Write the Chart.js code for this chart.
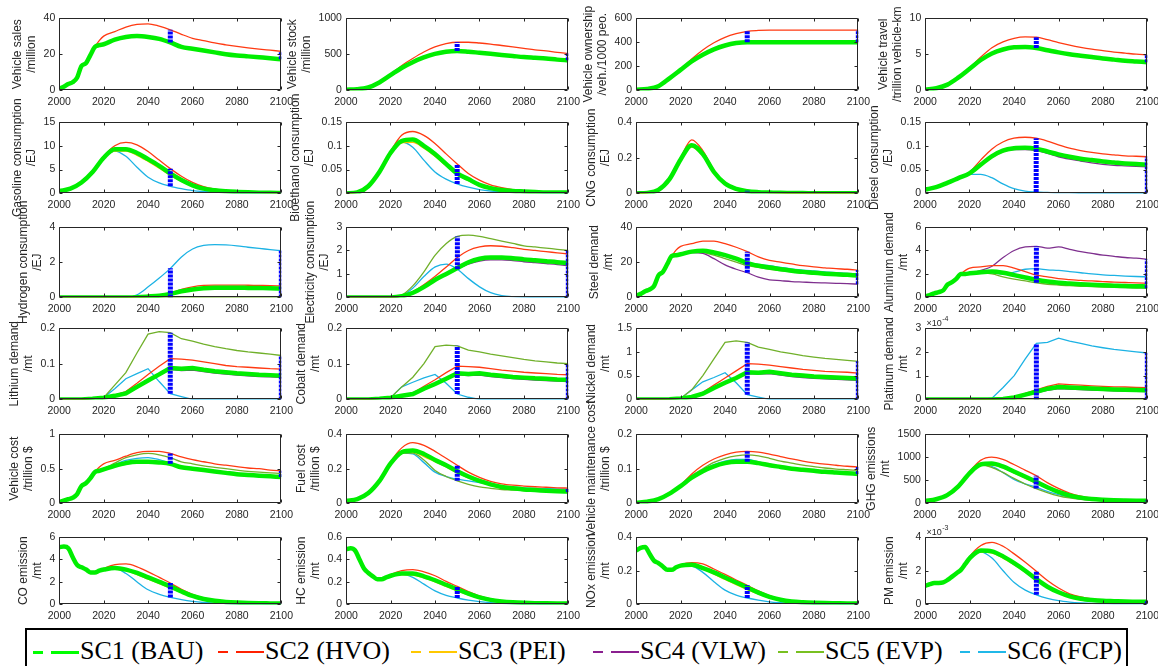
<!DOCTYPE html>
<html><head><meta charset="utf-8">
<script src="https://cdn.jsdelivr.net/npm/chart.js@4.4.1/dist/chart.umd.min.js"></script>
<style>
html,body{margin:0;padding:0;background:#fff;overflow:hidden;}
body{width:1158px;height:666px;position:relative;}
.panel{position:absolute;}
.panel canvas{display:block;}
#legend{position:absolute;left:25px;top:628px;width:1103px;height:60px;border:2px solid #000;box-sizing:border-box;}
.ltext{position:absolute;font-family:"Liberation Serif","Times New Roman",serif;font-size:26px;color:#000;line-height:30px;white-space:nowrap;}
.lseg{position:absolute;height:0;}
</style></head>
<body>
<div id="legend"></div>
<script>
// ---------------- data ----------------
const YEARS = [2000,2005,2010,2015,2020,2025,2030,2035,2040,2045,2050,2055,2060,2065,2070,2075,2080,2085,2090,2095,2100];
const YEARS_H = [2000,2002,2004,2006,2008,2010,2012,2014,2016,2018,2020,2025,2030,2035,2040,2045,2050,2055,2060,2065,2070,2075,2080,2085,2090,2095,2100];
const X_TICKS = [2000,2020,2040,2060,2080,2100];
const MARK_YEARS = [2050,2100];

const SERIES_NAMES = ['SC1 (BAU)','SC2 (HVO)','SC3 (PEI)','SC4 (VLW)','SC5 (EVP)','SC6 (FCP)'];

// Vehicle sales /million
const salesSC1 = [1,2,3.5,4.5,7,13.5,15,19.5,24,25,25.5,28,29.5,30,29.5,28.5,26.5,24,23,22,21,20,19.3,18.8,18.3,17.8,17.2];
const salesSC2 = [1,2,3.5,4.5,7,13.5,15,19.5,24,27.5,30,32.5,35,36.5,36.8,35.5,33.5,31,28.8,27.5,26.2,25.2,24.3,23.5,22.8,22.2,21.6];
// Vehicle stock /million
const stockSC1 = [10,15,40,110,210,310,390,455,505,535,545,535,520,505,490,475,460,450,440,425,415];
const stockSC2 = [10,15,40,110,220,340,440,530,600,645,665,665,655,640,620,600,580,560,545,525,510];
// Vehicle ownership
const ownSC1 = [5,12,35,100,170,240,295,340,372,392,400,400,400,400,400,400,400,400,400,400,400];
const ownSC2 = [5,12,35,100,175,260,335,395,440,470,490,497,500,500,500,500,500,500,500,500,500];
// Vehicle travel
const travSC1 = [0.1,0.3,0.8,1.8,3.0,4.2,5.1,5.65,5.95,6.0,5.85,5.55,5.25,5.0,4.8,4.6,4.4,4.25,4.1,4.0,3.9];
const travSC2 = [0.1,0.3,0.8,1.8,3.1,4.6,5.9,6.7,7.2,7.4,7.35,7.0,6.6,6.25,5.95,5.7,5.5,5.3,5.15,5.0,4.9];
// Gasoline
const gasSC1 = [0.5,1.0,2.3,4.5,7.5,9.3,9.3,8.5,7.2,5.8,4.2,2.8,1.7,1.0,0.65,0.45,0.32,0.22,0.16,0.12,0.1];
const gasSC2 = [0.5,1.0,2.3,4.5,7.8,10.0,10.7,10.2,8.8,7.0,5.2,3.6,2.3,1.4,0.9,0.6,0.42,0.3,0.22,0.16,0.12];
const gasSC3 = [0.5,1.0,2.3,4.5,7.5,8.9,8.9,8.0,6.7,5.3,3.8,2.5,1.5,0.9,0.6,0.42,0.3,0.21,0.15,0.11,0.09];
const gasSC6 = [0.5,1.0,2.3,4.5,7.5,8.9,7.8,5.5,3.4,2.2,1.5,1.0,0.6,0.4,0.3,0.2,0.15,0.1,0.08,0.06,0.05];
// Bioethanol
const bioSC1 = [0,0.002,0.015,0.045,0.085,0.11,0.113,0.1,0.083,0.062,0.042,0.03,0.018,0.011,0.007,0.005,0.004,0.003,0.002,0.002,0.002];
const bioSC2 = [0,0.002,0.015,0.045,0.088,0.122,0.13,0.122,0.105,0.083,0.062,0.042,0.028,0.018,0.012,0.008,0.006,0.004,0.003,0.003,0.002];
const bioSC3 = [0,0.002,0.015,0.045,0.085,0.106,0.107,0.095,0.078,0.058,0.04,0.027,0.017,0.01,0.007,0.005,0.004,0.003,0.002,0.002,0.002];
const bioSC6 = [0,0.002,0.015,0.045,0.085,0.108,0.097,0.07,0.045,0.03,0.02,0.013,0.008,0.005,0.004,0.003,0.002,0.002,0.001,0.001,0.001];
// CNG
const cngSC1 = [0,0.003,0.02,0.08,0.19,0.27,0.22,0.12,0.055,0.025,0.012,0.007,0.005,0.003,0.002,0.002,0.001,0.001,0.001,0.001,0.001];
const cngSC2 = [0,0.003,0.02,0.08,0.2,0.3,0.24,0.13,0.058,0.027,0.015,0.008,0.005,0.003,0.002,0.002,0.001,0.001,0.001,0.001,0.001];
const cngSC3 = [0,0.003,0.02,0.08,0.19,0.26,0.21,0.115,0.052,0.024,0.011,0.007,0.005,0.003,0.002,0.002,0.001,0.001,0.001,0.001,0.001];
// Diesel
const dslSC1 = [0.008,0.013,0.022,0.032,0.042,0.06,0.078,0.09,0.095,0.096,0.094,0.088,0.082,0.077,0.073,0.07,0.067,0.065,0.063,0.062,0.06];
const dslSC2 = [0.008,0.013,0.022,0.032,0.045,0.07,0.093,0.108,0.116,0.118,0.116,0.11,0.102,0.095,0.09,0.086,0.083,0.081,0.079,0.078,0.077];
const dslSC3 = [0.008,0.013,0.022,0.032,0.042,0.058,0.075,0.087,0.093,0.094,0.092,0.087,0.081,0.076,0.072,0.069,0.066,0.064,0.062,0.061,0.059];
const dslSC4 = [0.008,0.013,0.022,0.032,0.042,0.06,0.077,0.088,0.092,0.092,0.09,0.084,0.077,0.072,0.068,0.064,0.061,0.059,0.058,0.057,0.056];
const dslSC6 = [0.008,0.013,0.022,0.032,0.04,0.04,0.033,0.02,0.01,0.005,0.003,0.002,0.001,0.001,0,0,0,0,0,0,0];
// Hydrogen
const h2SC1 = [0,0,0,0,0,0,0,0.01,0.05,0.1,0.2,0.35,0.45,0.52,0.55,0.55,0.55,0.54,0.53,0.52,0.5];
const h2SC2 = [0,0,0,0,0,0,0,0.01,0.05,0.12,0.25,0.45,0.6,0.68,0.7,0.7,0.7,0.69,0.68,0.67,0.65];
const h2SC5 = [0,0,0,0,0,0,0,0,0,0,0,0,0,0,0,0,0,0,0,0,0];
const h2SC6 = [0,0,0,0,0,0,0,0.15,0.6,1.1,1.65,2.3,2.75,2.95,3.0,2.98,2.93,2.85,2.78,2.72,2.65];
// Electricity
const elecSC1 = [0,0,0,0,0,0.05,0.2,0.45,0.75,1.0,1.25,1.5,1.65,1.7,1.7,1.67,1.62,1.58,1.54,1.5,1.47];
const elecSC2 = [0,0,0,0,0,0.05,0.25,0.55,0.9,1.3,1.7,2.0,2.15,2.2,2.18,2.12,2.05,2.0,1.95,1.9,1.85];
const elecSC4 = [0,0,0,0,0,0.05,0.2,0.45,0.75,1.0,1.22,1.42,1.55,1.6,1.6,1.57,1.52,1.48,1.44,1.4,1.35];
const elecSC5 = [0,0,0,0,0,0.1,0.5,1.1,1.8,2.3,2.6,2.65,2.6,2.5,2.4,2.3,2.2,2.15,2.1,2.05,2.0];
const elecSC6 = [0,0,0,0,0,0.08,0.4,0.9,1.3,1.42,1.2,0.8,0.45,0.2,0.08,0.03,0.01,0,0,0,0];
// Steel
const steelSC1 = [1,2,3.5,4.5,6.5,12.5,14.5,19,23.5,24,24.5,26,26.5,25.5,24,22,19.5,18,17,16,15.2,14.5,14,13.5,13.1,12.8,12.5];
const steelSC2 = [1,2,3.5,4.5,6.5,12.5,14.5,19,23.5,27,29,30.5,32,32,30.5,28.5,26,23,21,20,19,18,17.3,16.8,16.3,16,15.5];
const steelSC4 = [1,2,3.5,4.5,6.5,12.5,14.5,19,23.5,24,24.5,25.5,25,22,18.5,16,14,11.5,10,9.5,9,8.7,8.4,8.2,8,7.8,7.5];
const steelSC5 = [1,2,3.5,4.5,6.5,12.5,14.5,19,23.5,24,24.5,25.8,25.5,24,22,20,18,17,16,15.2,14.5,13.8,13.3,12.9,12.5,12.2,12];
const steelSC6 = [1,2,3.5,4.5,6.5,12.5,14.5,19,23.5,24,24.5,25.8,26,25,23.5,22,20,18.7,18,17,16.2,15.5,15,14.5,14,13.7,13.5];
// Aluminum
const alSC1 = [0.1,0.2,0.35,0.45,0.6,1.1,1.3,1.6,2.0,2.0,2.05,2.15,2.2,2.1,1.9,1.7,1.5,1.35,1.25,1.18,1.12,1.07,1.03,1.0,0.97,0.95,0.93];
const alSC2 = [0.1,0.2,0.35,0.45,0.6,1.1,1.3,1.6,2.0,2.3,2.5,2.6,2.7,2.7,2.5,2.2,1.9,1.75,1.6,1.52,1.45,1.4,1.35,1.3,1.27,1.24,1.2];
const alSC4 = [0.1,0.2,0.35,0.45,0.6,1.1,1.3,1.6,2.0,2.0,2.05,2.3,2.65,3.4,4.0,4.3,4.35,4.2,4.3,4.1,3.9,3.75,3.6,3.5,3.4,3.35,3.25];
const alSC5 = [0.1,0.2,0.35,0.45,0.6,1.1,1.3,1.6,2.0,2.0,2.05,2.1,2.0,1.75,1.55,1.4,1.25,1.12,1.05,1.0,0.95,0.92,0.88,0.85,0.83,0.8,0.78];
const alSC6 = [0.1,0.2,0.35,0.45,0.6,1.1,1.3,1.6,2.0,2.0,2.05,2.15,2.1,2.0,2.15,2.4,2.45,2.35,2.3,2.2,2.1,2.0,1.92,1.87,1.82,1.78,1.75];
// Lithium
const liSC1 = [0,0,0,0.002,0.005,0.01,0.017,0.035,0.053,0.07,0.088,0.086,0.088,0.083,0.079,0.076,0.073,0.071,0.069,0.068,0.066];
const liSC2 = [0,0,0,0.002,0.005,0.012,0.022,0.045,0.07,0.093,0.114,0.113,0.11,0.105,0.1,0.095,0.092,0.09,0.088,0.086,0.085];
const liSC4 = [0,0,0,0.002,0.005,0.01,0.017,0.035,0.052,0.068,0.084,0.081,0.082,0.078,0.074,0.071,0.068,0.066,0.064,0.063,0.062];
const liSC5 = [0,0,0,0.002,0.005,0.04,0.075,0.13,0.183,0.19,0.187,0.17,0.163,0.155,0.148,0.142,0.137,0.133,0.13,0.127,0.123];
const liSC6 = [0,0,0,0.002,0.005,0.03,0.058,0.072,0.086,0.05,0.016,0.008,0,0,0,0,0,0,0,0,0];
// Cobalt
const coSC1 = [0,0,0,0.002,0.005,0.01,0.015,0.03,0.043,0.058,0.073,0.071,0.073,0.069,0.066,0.063,0.061,0.059,0.058,0.056,0.055];
const coSC2 = [0,0,0,0.002,0.005,0.01,0.018,0.037,0.055,0.075,0.093,0.092,0.09,0.086,0.082,0.079,0.076,0.074,0.072,0.07,0.069];
const coSC4 = [0,0,0,0.002,0.005,0.01,0.015,0.03,0.042,0.055,0.069,0.067,0.068,0.064,0.061,0.058,0.056,0.054,0.053,0.051,0.05];
const coSC5 = [0,0,0,0.002,0.005,0.035,0.062,0.1,0.148,0.152,0.15,0.138,0.133,0.127,0.122,0.117,0.112,0.108,0.105,0.102,0.1];
const coSC6 = [0,0,0,0.002,0.005,0.035,0.048,0.06,0.07,0.045,0.015,0.006,0,0,0,0,0,0,0,0,0];
// Nickel
const niSC1 = [0,0,0,0.005,0.02,0.05,0.12,0.24,0.35,0.45,0.57,0.56,0.58,0.55,0.52,0.5,0.48,0.47,0.46,0.45,0.44];
const niSC2 = [0,0,0,0.005,0.02,0.06,0.15,0.3,0.45,0.6,0.75,0.74,0.72,0.69,0.66,0.63,0.61,0.59,0.58,0.57,0.55];
const niSC4 = [0,0,0,0.005,0.02,0.05,0.12,0.23,0.34,0.44,0.54,0.53,0.54,0.51,0.48,0.46,0.44,0.43,0.42,0.41,0.4];
const niSC5 = [0,0,0,0.005,0.02,0.2,0.5,0.85,1.2,1.23,1.2,1.1,1.05,1.0,0.96,0.92,0.89,0.86,0.84,0.82,0.8];
const niSC6 = [0,0,0,0.005,0.02,0.2,0.37,0.46,0.56,0.35,0.1,0.05,0,0,0,0,0,0,0,0,0];
// Platinum (values in units of 1e-4 mt)
const ptSC1 = [0,0,0,0,0,0,0,0.02,0.08,0.2,0.32,0.45,0.52,0.5,0.48,0.46,0.44,0.42,0.41,0.4,0.38];
const ptSC2 = [0,0,0,0,0,0,0,0.03,0.1,0.25,0.4,0.55,0.65,0.62,0.6,0.57,0.55,0.53,0.52,0.5,0.49];
const ptSC4 = [0,0,0,0,0,0,0,0.02,0.07,0.18,0.28,0.38,0.45,0.43,0.41,0.39,0.38,0.36,0.35,0.34,0.33];
const ptSC5 = [0,0,0,0,0,0,0,0,0,0,0,0,0,0,0,0,0,0,0,0,0];
const ptSC6 = [0,0,0,0,0,0,0.05,0.5,1.0,1.7,2.35,2.4,2.57,2.45,2.35,2.25,2.17,2.1,2.05,2.0,1.95];
// Vehicle cost
const vcSC1 = [0.02,0.04,0.06,0.08,0.13,0.25,0.29,0.36,0.45,0.47,0.49,0.54,0.58,0.6,0.6,0.59,0.57,0.52,0.5,0.48,0.46,0.44,0.42,0.41,0.4,0.39,0.38];
const vcSC2 = [0.02,0.04,0.06,0.08,0.13,0.25,0.29,0.36,0.45,0.52,0.57,0.62,0.68,0.73,0.75,0.75,0.72,0.67,0.63,0.6,0.57,0.55,0.53,0.51,0.5,0.48,0.47];
const vcSC5 = [0.02,0.04,0.06,0.08,0.13,0.25,0.29,0.36,0.45,0.47,0.5,0.58,0.66,0.7,0.72,0.7,0.66,0.6,0.57,0.54,0.52,0.5,0.48,0.46,0.45,0.44,0.43];
const vcSC6 = [0.02,0.04,0.06,0.08,0.13,0.25,0.29,0.36,0.45,0.47,0.49,0.56,0.62,0.65,0.66,0.63,0.58,0.53,0.51,0.49,0.47,0.45,0.43,0.42,0.41,0.4,0.39];
// Fuel cost
const fcSC1 = [0.015,0.025,0.06,0.13,0.23,0.295,0.305,0.285,0.25,0.22,0.185,0.155,0.13,0.11,0.095,0.087,0.08,0.077,0.073,0.07,0.068];
const fcSC2 = [0.015,0.025,0.06,0.13,0.24,0.32,0.35,0.335,0.3,0.26,0.22,0.18,0.15,0.127,0.113,0.105,0.1,0.096,0.093,0.09,0.088];
const fcSC3 = [0.015,0.025,0.06,0.13,0.23,0.29,0.295,0.27,0.24,0.21,0.175,0.147,0.124,0.105,0.092,0.084,0.078,0.075,0.071,0.069,0.067];
const fcSC5 = [0.015,0.025,0.06,0.13,0.23,0.29,0.29,0.25,0.19,0.155,0.13,0.11,0.095,0.087,0.08,0.077,0.074,0.072,0.07,0.068,0.066];
const fcSC6 = [0.015,0.025,0.06,0.13,0.23,0.29,0.285,0.235,0.18,0.155,0.14,0.13,0.12,0.11,0.1,0.095,0.09,0.087,0.085,0.083,0.082];
// Maintenance cost
const mcSC1 = [0.002,0.005,0.012,0.028,0.05,0.074,0.093,0.107,0.116,0.12,0.12,0.116,0.11,0.105,0.1,0.097,0.094,0.091,0.089,0.087,0.085];
const mcSC2 = [0.002,0.005,0.012,0.028,0.052,0.085,0.11,0.128,0.14,0.148,0.15,0.148,0.142,0.135,0.128,0.122,0.117,0.113,0.11,0.107,0.105];
const mcSC5 = [0.002,0.005,0.012,0.028,0.051,0.08,0.1,0.118,0.13,0.137,0.14,0.137,0.13,0.122,0.116,0.11,0.106,0.102,0.099,0.097,0.095];
const mcSC6 = [0.002,0.005,0.012,0.028,0.05,0.077,0.097,0.112,0.122,0.127,0.127,0.12,0.113,0.107,0.102,0.098,0.095,0.092,0.09,0.088,0.086];
// GHG
const ghgSC1 = [50,90,180,370,650,840,860,800,690,580,470,350,250,175,125,95,78,67,61,57,55];
const ghgSC2 = [50,90,180,370,680,930,1000,950,840,720,600,450,325,225,155,112,90,78,70,65,62];
const ghgSC3 = [50,90,180,370,650,820,830,770,660,545,435,325,235,165,118,90,75,65,59,55,53];
const ghgSC5 = [50,90,180,370,650,830,780,670,540,420,320,235,165,118,88,70,60,55,52,50,48];
const ghgSC6 = [50,90,180,370,650,830,800,670,520,420,350,260,190,130,95,75,65,58,55,52,50];
// CO
const coeSC1 = [5.1,5.15,5.0,4.2,3.5,3.3,3.1,2.85,2.85,3.0,3.1,3.25,3.1,2.8,2.4,2.0,1.6,1.15,0.75,0.48,0.32,0.22,0.16,0.12,0.1,0.09,0.08];
const coeSC2 = [5.1,5.15,5.0,4.2,3.5,3.3,3.1,2.85,2.85,3.0,3.2,3.55,3.6,3.35,2.9,2.4,1.9,1.35,0.9,0.58,0.38,0.26,0.18,0.14,0.11,0.1,0.09];
const coeSC3 = [5.1,5.15,5.0,4.2,3.5,3.3,3.1,2.85,2.85,3.0,3.1,3.15,3.0,2.65,2.25,1.85,1.45,1.05,0.7,0.45,0.3,0.2,0.15,0.11,0.09,0.08,0.07];
const coeSC6 = [5.1,5.15,5.0,4.2,3.5,3.3,3.1,2.85,2.85,3.0,3.1,3.2,2.75,2.0,1.3,0.9,0.62,0.42,0.27,0.17,0.11,0.08,0.06,0.05,0.04,0.035,0.03];
// HC
const hcSC1 = [0.49,0.5,0.48,0.4,0.32,0.28,0.25,0.225,0.225,0.24,0.255,0.275,0.275,0.25,0.215,0.175,0.135,0.095,0.062,0.04,0.027,0.019,0.014,0.011,0.01,0.009,0.008];
const hcSC2 = [0.49,0.5,0.48,0.4,0.32,0.28,0.25,0.225,0.225,0.24,0.265,0.3,0.31,0.29,0.255,0.205,0.16,0.115,0.075,0.048,0.031,0.021,0.015,0.012,0.01,0.009,0.008];
const hcSC3 = [0.49,0.5,0.48,0.4,0.32,0.28,0.25,0.225,0.225,0.24,0.255,0.265,0.26,0.235,0.2,0.16,0.12,0.085,0.056,0.036,0.024,0.017,0.013,0.01,0.009,0.008,0.007];
const hcSC6 = [0.49,0.5,0.48,0.4,0.32,0.28,0.25,0.225,0.225,0.24,0.255,0.27,0.24,0.18,0.12,0.08,0.057,0.038,0.024,0.015,0.01,0.007,0.005,0.004,0.003,0.003,0.003];
// NOx
const noxSC1 = [0.32,0.335,0.34,0.3,0.26,0.245,0.225,0.205,0.205,0.22,0.23,0.235,0.215,0.19,0.16,0.13,0.1,0.07,0.045,0.028,0.018,0.013,0.01,0.008,0.007,0.006,0.006];
const noxSC2 = [0.32,0.335,0.34,0.3,0.26,0.245,0.225,0.205,0.205,0.22,0.235,0.248,0.24,0.21,0.178,0.145,0.113,0.08,0.052,0.033,0.022,0.016,0.012,0.01,0.009,0.008,0.007];
const noxSC3 = [0.32,0.335,0.34,0.3,0.26,0.245,0.225,0.205,0.205,0.22,0.23,0.232,0.21,0.18,0.148,0.117,0.088,0.062,0.04,0.025,0.016,0.012,0.009,0.007,0.006,0.006,0.005];
const noxSC6 = [0.32,0.335,0.34,0.3,0.26,0.245,0.225,0.205,0.205,0.22,0.23,0.228,0.19,0.135,0.085,0.055,0.038,0.025,0.015,0.01,0.007,0.005,0.004,0.003,0.003,0.002,0.002];
// PM (values in units of 1e-3 mt)
const pmSC1 = [1.1,1.2,1.27,1.27,1.3,1.45,1.65,1.85,2.05,2.4,2.75,3.2,3.15,2.85,2.45,2.0,1.5,1.05,0.72,0.48,0.34,0.26,0.21,0.19,0.17,0.16,0.15];
const pmSC2 = [1.1,1.2,1.27,1.27,1.3,1.45,1.65,1.85,2.05,2.4,2.85,3.5,3.68,3.45,3.0,2.5,1.96,1.42,0.97,0.63,0.44,0.33,0.27,0.23,0.21,0.2,0.19];
const pmSC3 = [1.1,1.2,1.27,1.27,1.3,1.45,1.65,1.85,2.05,2.4,2.75,3.1,3.05,2.75,2.35,1.9,1.45,1.02,0.7,0.47,0.33,0.26,0.21,0.19,0.17,0.16,0.15];
const pmSC6 = [1.1,1.2,1.27,1.27,1.3,1.45,1.65,1.85,2.05,2.4,2.75,3.1,2.75,2.0,1.3,0.85,0.57,0.36,0.22,0.14,0.09,0.06,0.05,0.04,0.035,0.03,0.03];

// panel table (row-major): title lines, x years, series SC1..SC6, y max, y step
const PANELS = [
 {t:['Vehicle sales','/million'], x:YEARS_H, s:[salesSC1,salesSC2,null,null,null,null], max:40, step:20},
 {t:['Vehicle stock','/million'], x:YEARS, s:[stockSC1,stockSC2,null,null,null,null], max:1000, step:500},
 {t:['Vehicle ownership','/veh./1000 peo.'], x:YEARS, s:[ownSC1,ownSC2,null,null,null,null], max:600, step:200},
 {t:['Vehicle travel','/trillion vehicle-km'], x:YEARS, s:[travSC1,travSC2,null,null,null,null], max:10, step:5},
 {t:['Gasoline consumption','/EJ'], x:YEARS, s:[gasSC1,gasSC2,gasSC3,null,null,gasSC6], max:15, step:5},
 {t:['Bioethanol consumption','/EJ'], x:YEARS, s:[bioSC1,bioSC2,bioSC3,null,null,bioSC6], max:0.15, step:0.05},
 {t:['CNG consumption','/EJ'], x:YEARS, s:[cngSC1,cngSC2,cngSC3,null,null,null], max:0.4, step:0.2},
 {t:['Diesel consumption','/EJ'], x:YEARS, s:[dslSC1,dslSC2,dslSC3,dslSC4,null,dslSC6], max:0.15, step:0.05},
 {t:['Hydrogen consumption','/EJ'], x:YEARS, s:[h2SC1,h2SC2,null,null,h2SC5,h2SC6], max:4, step:2},
 {t:['Electricity consumption','/EJ'], x:YEARS, s:[elecSC1,elecSC2,null,elecSC4,elecSC5,elecSC6], max:3, step:1},
 {t:['Steel demand','/mt'], x:YEARS_H, s:[steelSC1,steelSC2,null,steelSC4,steelSC5,steelSC6], max:40, step:20},
 {t:['Aluminum demand','/mt'], x:YEARS_H, s:[alSC1,alSC2,null,alSC4,alSC5,alSC6], max:6, step:2},
 {t:['Lithium demand','/mt'], x:YEARS, s:[liSC1,liSC2,null,liSC4,liSC5,liSC6], max:0.2, step:0.1, lin:true},
 {t:['Cobalt demand','/mt'], x:YEARS, s:[coSC1,coSC2,null,coSC4,coSC5,coSC6], max:0.2, step:0.1, lin:true},
 {t:['Nickel demand','/mt'], x:YEARS, s:[niSC1,niSC2,null,niSC4,niSC5,niSC6], max:1.5, step:0.5, lin:true},
 {t:['Platinum demand','/mt'], x:YEARS, s:[ptSC1,ptSC2,null,ptSC4,ptSC5,ptSC6], max:3, step:1, lin:true, exp:'-4'},
 {t:['Vehicle cost','/trillion $'], x:YEARS_H, s:[vcSC1,vcSC2,null,null,vcSC5,vcSC6], max:1, step:0.5},
 {t:['Fuel cost','/trillion $'], x:YEARS, s:[fcSC1,fcSC2,fcSC3,null,fcSC5,fcSC6], max:0.4, step:0.2},
 {t:['Vehicle maintenance cost','/trillion $'], x:YEARS, s:[mcSC1,mcSC2,null,null,mcSC5,mcSC6], max:0.2, step:0.1},
 {t:['GHG emissions','/mt'], x:YEARS, s:[ghgSC1,ghgSC2,ghgSC3,null,ghgSC5,ghgSC6], max:1500, step:500},
 {t:['CO emission','/mt'], x:YEARS_H, s:[coeSC1,coeSC2,coeSC3,null,null,coeSC6], max:6, step:2},
 {t:['HC emission','/mt'], x:YEARS_H, s:[hcSC1,hcSC2,hcSC3,null,null,hcSC6], max:0.6, step:0.2},
 {t:['NOx emission','/mt'], x:YEARS_H, s:[noxSC1,noxSC2,noxSC3,null,null,noxSC6], max:0.4, step:0.2},
 {t:['PM emission','/mt'], x:YEARS_H, s:[pmSC1,pmSC2,pmSC3,null,null,pmSC6], max:4, step:2, exp:'-3'}
];

// ---------------- layout & style ----------------
const COL_LEFT = [59, 346, 636, 925];
const PLOT_W = 222;
const ROW_TOP = [18, 122, 227, 328, 434, 537];
const ROW_H = [72, 71, 70, 71, 69, 67];
const COLORS = ['#00ee00','#ff3a12','#ffbb00','#7e2f8e','#70b02a','#1cb2e4'];
const LEGEND_COLORS = ['#00ff00','#ff2000','#ffc800','#8a1f8f','#78c020','#20b8e8'];
const MARK_COLOR = '#0000ff';
const AX = '#262626';
const FONT = "'Liberation Sans', Arial, Helvetica, sans-serif";

function boxPlugin(exp){
  return {
    id:'box'+(exp||''),
    afterDraw(chart){
      const {ctx, chartArea:a, scales:{x, y}} = chart;
      ctx.save();
      ctx.strokeStyle = AX; ctx.lineWidth = 1;
      const l = Math.round(a.left)+0.5, t = Math.round(a.top)+0.5, r = Math.round(a.right)-0.5, b = Math.round(a.bottom)-0.5;
      ctx.beginPath();
      ctx.rect(l, t, r-l, b-t);
      x.ticks.forEach(tk => { const px = Math.round(x.getPixelForValue(tk.value))+0.5; ctx.moveTo(px,b); ctx.lineTo(px,b-3); ctx.moveTo(px,t); ctx.lineTo(px,t+3); });
      y.ticks.forEach(tk => { const py = Math.round(y.getPixelForValue(tk.value))+0.5; ctx.moveTo(l,py); ctx.lineTo(l+3,py); ctx.moveTo(r,py); ctx.lineTo(r-3,py); });
      ctx.stroke();
      if (exp) {
        ctx.fillStyle = AX; ctx.textBaseline = 'alphabetic'; ctx.textAlign = 'left';
        ctx.font = '9px ' + FONT;
        ctx.fillText('\u00d710', a.left + 1, a.top - 2);
        const w = ctx.measureText('\u00d710').width;
        ctx.font = '7px ' + FONT;
        ctx.fillText(exp, a.left + 1 + w + 0.5, a.top - 7);
      }
      ctx.restore();
    }
  };
}

function makeConfig(p){
  const datasets = [];
  MARK_YEARS.forEach(yr => {
    const k = p.x.indexOf(yr);
    const vals = p.s.filter(Boolean).map(a => a[k]);
    datasets.push({data:[{x:yr, y:Math.min(...vals)}, {x:yr, y:Math.max(...vals)}],
      borderColor:MARK_COLOR, borderWidth:5, borderDash:[3,1], pointRadius:0, order:0, clip:0, tension:0});
  });
  p.s.forEach((arr, j) => {
    if (!arr) return;
    datasets.push({
      data: p.x.map((yr, k) => ({x:yr, y:arr[k]})),
      borderColor: COLORS[j], borderWidth: j === 0 ? 4.5 : 1.3,
      pointRadius:0, order: j === 0 ? 1 : 2 + j,
      tension: p.lin ? 0 : 0.4,
      cubicInterpolationMode: p.lin ? 'default' : 'monotone'
    });
  });
  return {
    type:'line',
    data:{datasets},
    options:{
      animation:false, responsive:false, maintainAspectRatio:false, devicePixelRatio:1, events:[],
      layout:{padding:{top:40, right:16, bottom:30, left:0}},
      plugins:{legend:{display:false}, tooltip:{enabled:false}},
      scales:{
        x:{type:'linear', min:2000, max:2100,
           grid:{display:false, drawTicks:false}, border:{display:false},
           afterBuildTicks: s => { s.ticks = X_TICKS.map(v => ({value:v})); },
           ticks:{padding:5, color:AX, font:{family:FONT, size:10.5}, maxRotation:0, autoSkip:false, callback:v => String(v)}},
        y:{type:'linear', min:0, max:p.max,
           grid:{display:false, drawTicks:false}, border:{display:false},
           ticks:{stepSize:p.step, padding:4, color:AX, font:{family:FONT, size:10.5}, callback:v => String(+Number(v).toFixed(6))},
           title:{display:true, text:p.t, color:AX, font:{family:FONT, size:12, lineHeight:1.15}, padding:{top:0, bottom:1}}}
      }
    },
    plugins:[boxPlugin(p.exp)]
  };
}

PANELS.forEach((p, i) => {
  const col = i % 4, row = Math.floor(i / 4);
  const div = document.createElement('div'); div.className = 'panel';
  document.body.appendChild(div);
  const W0 = 340, H0 = 210;
  let cv = document.createElement('canvas'); cv.width = W0; cv.height = H0; div.appendChild(cv);
  let ch = new Chart(cv, makeConfig(p));
  const a = ch.chartArea;
  const L = Math.round(a.left), T = Math.round(a.top), R = Math.round(W0 - a.right), B = Math.round(H0 - a.bottom);
  ch.destroy(); div.removeChild(cv);
  cv = document.createElement('canvas');
  cv.width = L + PLOT_W + R; cv.height = T + ROW_H[row] + B;
  div.appendChild(cv);
  div.style.left = (COL_LEFT[col] - L) + 'px';
  div.style.top = (ROW_TOP[row] - T) + 'px';
  new Chart(cv, makeConfig(p));
});

// ---------------- legend ----------------
const LEG_X = [33, 218, 411, 593, 778, 960];
const leg = document.getElementById('legend');
SERIES_NAMES.forEach((name, j) => {
  const x0 = LEG_X[j] - 27;
  const lw = j === 0 ? 3 : 2;
  [[0,10],[18,28]].forEach(([o, w]) => {
    const s = document.createElement('div'); s.className = 'lseg';
    s.style.left = (x0 + o) + 'px'; s.style.width = w + 'px';
    s.style.top = (22 - lw/2) + 'px';
    s.style.borderTop = lw + 'px solid ' + LEGEND_COLORS[j];
    leg.appendChild(s);
  });
  const t = document.createElement('div'); t.className = 'ltext';
  t.textContent = name; t.style.left = (x0 + 47) + 'px'; t.style.top = '6px';
  leg.appendChild(t);
});
</script>
</body></html>
